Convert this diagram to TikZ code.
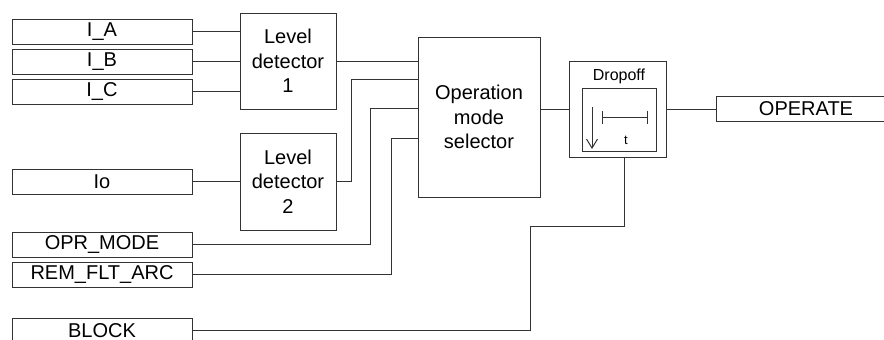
\documentclass[tikz,border=0pt]{standalone}
\usepackage{fontspec}
\setmainfont{Liberation Sans}
\usetikzlibrary{arrows.meta,calc,positioning}

\begin{document}
\begin{tikzpicture}[x=1pt,y=-1pt,line width=1pt,
  sig/.style={draw=black!80,minimum width=180pt,minimum height=25pt,inner sep=0pt,font=\fontsize{20}{24}\selectfont},
  blk/.style={draw=black!80,align=center,inner sep=0pt,font=\fontsize{20}{24.5}\selectfont},
  wire/.style={draw=black!80}]
\useasboundingbox (0,0) rectangle (884,340);
\node[sig] (ia) at (102,31.5) {I\_A};
\node[sig,below=4pt of ia] (ib) {I\_B};
\node[sig,below=4pt of ib] (ic) {I\_C};
\node[sig] (io) at (102,181.5) {Io};
\node[sig] (opr) at (102,244.5) {OPR\_MODE};
\node[sig,below=4pt of opr] (rem) {REM\_FLT\_ARC};
\node[sig] (block) at (102,330.5) {BLOCK};
\node[blk,minimum width=96pt,minimum height=96pt] (ld1) at (288,61) {Level\\detector\\1};
\node[blk,minimum width=96pt,minimum height=97pt] (ld2) at (288,181.5) {Level\\detector\\2};
\node[blk,minimum width=122pt,minimum height=160pt] (oms) at (479,117) {Operation\\mode\\selector};
\node[blk,minimum width=97pt,minimum height=96pt] (drop) at (617.5,109) {};
\node[blk,minimum width=74pt,minimum height=63pt] (dly) at (619,119.5) {};
\node[anchor=base,font=\fontsize{16}{16}\selectfont] (droplbl) at (619,80) {Dropoff};
\node[anchor=base,font=\fontsize{13}{13}\selectfont] (tlbl) at (626,144) {t};
\node[sig] (out) at (806,109) {OPERATE};
\draw[wire,-{Straight Barb[length=9pt,width=11pt]}] (592,107) -- (592,149);
\draw[wire,{Bar[width=13pt]}-{Bar[width=13pt]}] (602,117) -- (648,117);
\coordinate (in2) at ($(oms.north west)+(0,43)$);
\coordinate (in3) at ($(oms.north west)+(0,72)$);
\coordinate (in4) at ($(oms.north west)+(0,102)$);
\coordinate (dropin) at ($(drop.south)+(6.5,0)$);
\draw[wire] (ia) -- (ia -| ld1.west);
\draw[wire] (ib) -- (ib -| ld1.west);
\draw[wire] (ic) -- (ic -| ld1.west);
\draw[wire] (io) -- (io -| ld2.west);
\draw[wire] (ld1) -- (ld1 -| oms.west);
\draw[wire] (ld2.east) -- ++(15,0) |- (in2);
\draw[wire] (opr.east) -- ++(178,0) |- (in3);
\draw[wire] (rem.east) -- ++(199,0) |- (in4);
\draw[wire] (drop.west -| oms.east) -- (drop.west);
\draw[wire] (drop) -- (out);
\draw[wire] (block.east) -- ++(338,0) -- ++(0,-104) -| (dropin);
\end{tikzpicture}
\end{document}
